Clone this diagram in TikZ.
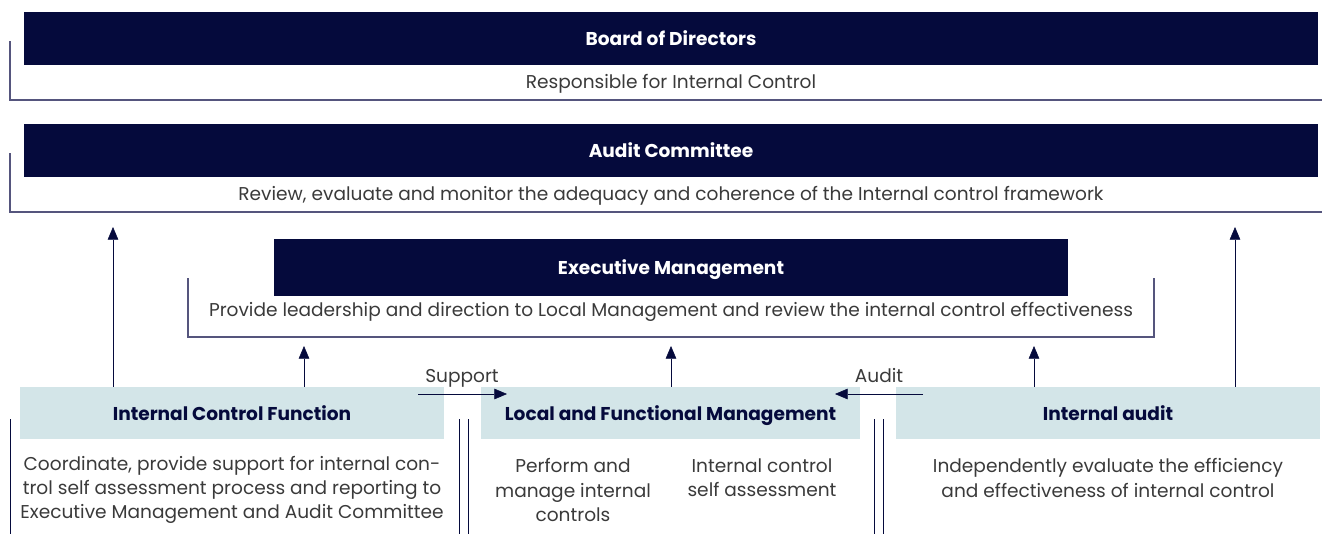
\documentclass[tikz,border=0pt]{standalone}
\usepackage{fontspec}
\setmainfont{Poppins}
\usetikzlibrary{arrows.meta,positioning}
\definecolor{navy}{HTML}{050A3C}
\definecolor{paleblue}{HTML}{D3E5E8}
\definecolor{rule}{HTML}{55557D}
\definecolor{txt}{HTML}{3A3A3A}
\tikzset{
  bar/.style = {fill = navy, text = white, inner sep = 0pt, text height = 11.5pt, text depth = 1.5pt, font = \fontsize{13.2}{15}\selectfont\bfseries},
  unit/.style = {fill = paleblue, text = navy, inner sep = 0pt, text height = 11.5pt, text depth = 1.5pt, font = \fontsize{13.2}{15}\selectfont\bfseries},
  note/.style = {text = txt, inner sep = 0pt, align = center, font = \fontsize{13.2}{17.2}\selectfont},
  up/.style = {draw = navy, -{Triangle[length=9pt,width=7.5pt]}},
  bracket/.style = {draw = rule, line width = 0.75pt}
}
\begin{document}
\begin{tikzpicture}[x = 0.025cm, y = -0.025cm]
\useasboundingbox (0,0) rectangle (1322,534);
% top bars
\node (board) [bar, minimum width = 1294*0.025cm, minimum height = 53*0.025cm] at (671,38.5) {Board of Directors};
\node (boardtxt) [note] at (671,84) {Responsible for Internal Control};
\node (audit) [bar, minimum width = 1294*0.025cm, minimum height = 53*0.025cm] at (671,150.5) {Audit Committee};
\node (audittxt) [note] at (671,196) {Review, evaluate and monitor the adequacy and coherence of the Internal control framework};
\node (exec) [bar, minimum width = 794*0.025cm, minimum height = 57*0.025cm] at (671,267.5) {Executive Management};
\node (exectxt) [note] at (671,312) {Provide leadership and direction to Local Management and review the internal control effectiveness};
% brackets
\draw [bracket] (10,41) -- (10,100) -- (1322,100);
\draw [bracket] (10,153) -- (10,212) coordinate (acl) -- (1322,212);
\draw [bracket] (188,278) -- (188,337) coordinate (ecl) -- (1154,337) -- (1154,278);
% bottom row
\node (icf) [unit, minimum width = 424*0.025cm, minimum height = 52*0.025cm] at (232,413) {Internal Control Function};
\node (lfm) [unit, minimum width = 379*0.025cm, minimum height = 52*0.025cm] at (670.5,413) {Local and Functional Management};
\node (ia) [unit, minimum width = 424*0.025cm, minimum height = 52*0.025cm] at (1108,413) {Internal audit};
\node (icftxt) [note] at (232,490) {Coordinate, provide support for internal con-\\trol self assessment process and reporting to\\Executive Management and Audit Committee};
\node (lfmtxt1) [note] at (573,490) {Perform and\\manage internal\\controls};
\node (lfmtxt2) [note] at (762,478) {Internal control\\self assessment};
\node (iatxt) [note] at (1108,478) {Independently evaluate the efficiency\\and effectiveness of internal control};
% upward arrows
\foreach \x/\from in {113/icf, 1235/ia} {
  \draw [up, shorten > = 15*0.025cm] (\from.north -| \x,0) -- (acl -| \x,0);
}
\foreach \x/\from in {304/icf, 671/lfm, 1034/ia} {
  \draw [up, shorten > = 9*0.025cm] (\from.north -| \x,0) -- (ecl -| \x,0);
}
% support and audit
\coordinate (sup0) at (418,394);
\coordinate (aud0) at (923,394);
\node (suplbl) [note, anchor = base] at (462,382) {Support};
\node (audlbl) [note, anchor = base] at (879,382) {Audit};
\draw [up] (sup0) -- (sup0 -| 507,0);
\draw [up] (aud0) -- (aud0 -| 835,0);
% separators
\foreach \x in {10, 459, 468, 874, 883} {
  \draw [draw = navy, line width = 0.6pt] (\x,419) -- (\x,534);
}
\end{tikzpicture}
\end{document}
